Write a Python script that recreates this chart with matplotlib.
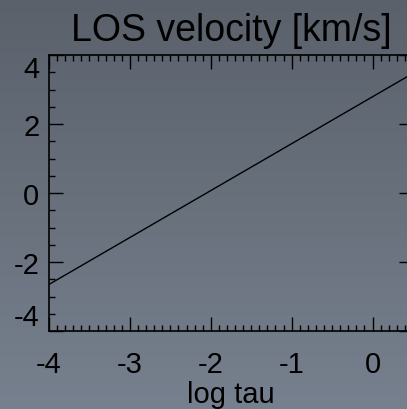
import numpy as np
import matplotlib.pyplot as plt
from matplotlib.ticker import MultipleLocator

# data
log_tau = [-4.0, 0.5]
velocity = [-2.65, 3.47]

xticks = [-4, -3, -2, -1, 0]
yticks = [-4, -2, 0, 2, 4]

plt.rcParams['font.family'] = ['Liberation Sans', 'DejaVu Sans']

fig = plt.figure(figsize=(4.07, 4.10), dpi=100)

# grey vertical gradient behind everything
bg = fig.add_axes([0, 0, 1, 1], zorder=-10)
grad = np.linspace(0, 1, 256).reshape(-1, 1)
top = np.array([0x5a, 0x61, 0x6b]) / 255
bot = np.array([0x77, 0x80, 0x8e]) / 255
img = top + (bot - top) * grad[:, :, None]
bg.imshow(img, aspect='auto', extent=[0, 1, 0, 1])
bg.axis('off')

W, H = 407, 410
left, right, top_px, bottom_px = 49, 413, 56, 332
ax = fig.add_axes([left / W, 1 - bottom_px / H, (right - left) / W, (bottom_px - top_px) / H])
ax.patch.set_alpha(0)

ax.plot(log_tau, velocity, color='black', lw=1)
ax.set_xlim(-4, 0.5)
ax.set_ylim(-4, 4)
ax.set_xticks(xticks)
ax.set_yticks(yticks)
ax.set_xticklabels([str(t) for t in xticks])
ax.set_yticklabels([str(t) for t in yticks])
ax.xaxis.set_minor_locator(MultipleLocator(0.1))
ax.yaxis.set_minor_locator(MultipleLocator(0.5))
ax.tick_params(which='both', direction='in', top=True, right=True, color='black', width=1)
ax.tick_params(which='major', length=10, labelsize=21)
ax.tick_params(axis='x', which='major', pad=14)
ax.tick_params(axis='y', which='major', pad=7)
ax.tick_params(which='minor', length=4)
for s in ax.spines.values():
    s.set_linewidth(1.2)

# end labels on the y axis sit inside the frame, IDL style
ylabs = ax.get_yticklabels()
ylabs[0].set_va('bottom')
ylabs[-1].set_va('top')

ax.set_title('LOS velocity [km/s]', fontsize=27, pad=11)
ax.set_xlabel('log tau', fontsize=21, labelpad=1)

fig.savefig('out.png', dpi=100)
